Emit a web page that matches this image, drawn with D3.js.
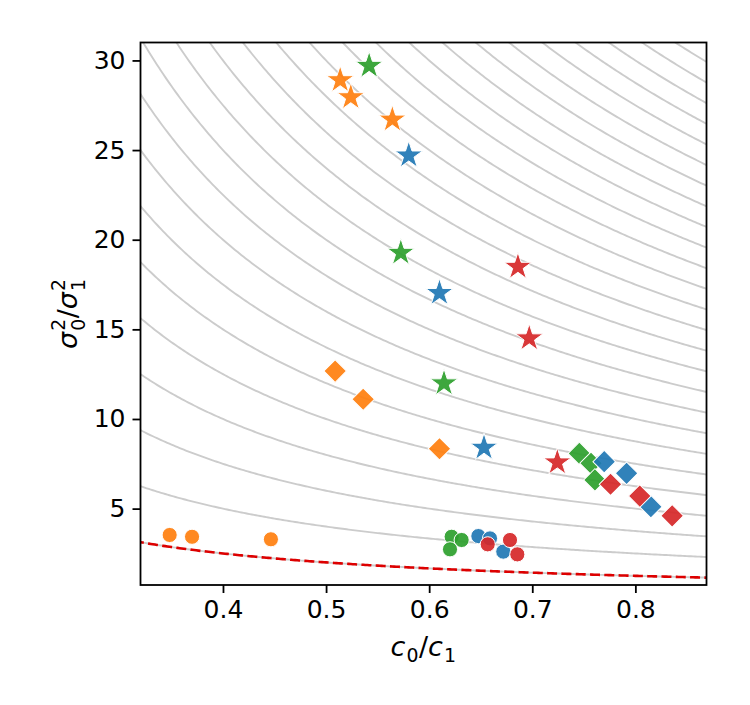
<!DOCTYPE html>
<html><head><meta charset="utf-8">
<script src="https://cdn.jsdelivr.net/npm/d3@7"></script>
<style>body{margin:0;background:#fff} svg{display:block} text{font-family:"DejaVu Sans",sans-serif;}</style>
</head><body>
<svg id="chart" width="750" height="705"></svg>
<script>
// ---- data ----
const xTicks = [0.4, 0.5, 0.6, 0.7, 0.8];
const yTicks = [5, 10, 15, 20, 25, 30];
const curveK = [1,2,3,4,5,6,7,8,9,10,11,12,13,14,15,16,17,18,19,20,21,22,23,24,25,26,27];
const boundK = 1;

const blueStars     = [[0.5802, 24.70], [0.6100, 17.03], [0.6532, 8.40]];
const blueDiamonds  = [[0.7698, 7.62], [0.7915, 6.97], [0.8150, 5.11]];
const blueCircles   = [[0.6477, 3.47], [0.6590, 3.34], [0.6719, 2.60]];
const orangeStars    = [[0.5137, 28.90], [0.5240, 27.95], [0.5643, 26.70]];
const orangeDiamonds = [[0.5088, 12.67], [0.5360, 11.10], [0.6100, 8.34]];
const orangeCircles  = [[0.3483, 3.53], [0.3700, 3.43], [0.4465, 3.29]];
const greenStars    = [[0.5418, 29.70], [0.5725, 19.27], [0.6144, 11.99]];
const greenDiamonds = [[0.7457, 8.08], [0.7570, 7.53], [0.7608, 6.60]];
const greenCircles  = [[0.6218, 3.43], [0.6315, 3.25], [0.6202, 2.73]];
const redStars    = [[0.6861, 18.49], [0.6971, 14.50], [0.7243, 7.58]];
const redDiamonds = [[0.7759, 6.36], [0.8043, 5.70], [0.8357, 4.60]];
const redCircles  = [[0.6568, 3.01], [0.6784, 3.25], [0.6855, 2.45]];

const groups = [
  {color: "#ff7f0e", stars: orangeStars, diamonds: orangeDiamonds, circles: orangeCircles},
  {color: "#2ca02c", stars: greenStars, diamonds: greenDiamonds, circles: greenCircles},
  {color: "#1f77b4", stars: blueStars, diamonds: blueDiamonds, circles: blueCircles},
  {color: "#d62728", stars: redStars, diamonds: redDiamonds, circles: redCircles}
];

// ---- layout ----
const m = {left: 140.5, right: 706.5, top: 42.5, bottom: 585};
const x = d3.scaleLinear().domain([0.32, 0.869]).range([m.left, m.right]);
const y = d3.scaleLinear().domain([0.74, 31.0]).range([m.bottom, m.top]);
const FS = 25;
const LFS = 27;

const svg = d3.select("#chart");
svg.append("defs").append("clipPath").attr("id", "clip")
  .append("rect").attr("x", m.left).attr("y", m.top)
  .attr("width", m.right - m.left).attr("height", m.bottom - m.top);

const plot = svg.append("g").attr("clip-path", "url(#clip)");

const xs = d3.range(0, 301).map(i => 0.3 + i * (0.9 - 0.3) / 300);
const line = d3.line().x(d => x(d[0])).y(d => y(d[1]));

plot.append("g").selectAll("path").data(curveK).join("path")
  .attr("d", k => line(xs.map(v => [v, k / v])))
  .attr("fill", "none").attr("stroke", "#cccccc").attr("stroke-width", 1.9);

plot.append("path")
  .attr("d", line(xs.map(v => [v, boundK / v])))
  .attr("fill", "none").attr("stroke", "#dd0000").attr("stroke-width", 2.6)
  .attr("stroke-dasharray", "10,4.3");

const star = d3.symbol().type(d3.symbolStar).size(235);
const diamond = d3.symbol().type(d3.symbolSquare).size(255);
const circle = d3.symbol().type(d3.symbolCircle).size(180);

const mk = plot.append("g");
groups.forEach(g => {
  mk.append("g").selectAll("path.c").data(g.circles).join("path")
    .attr("transform", d => `translate(${x(d[0])},${y(d[1])})`)
    .attr("d", circle()).attr("fill", g.color).attr("fill-opacity", 0.92)
    .attr("stroke", "#fff").attr("stroke-width", 1);
  mk.append("g").selectAll("path.d").data(g.diamonds).join("path")
    .attr("transform", d => `translate(${x(d[0])},${y(d[1])}) rotate(45)`)
    .attr("d", diamond()).attr("fill", g.color).attr("fill-opacity", 0.92)
    .attr("stroke", "#fff").attr("stroke-width", 1);
  mk.append("g").selectAll("path.s").data(g.stars).join("path")
    .attr("transform", d => `translate(${x(d[0])},${y(d[1])})`)
    .attr("d", star()).attr("fill", g.color).attr("fill-opacity", 0.92)
    .attr("stroke", "#fff").attr("stroke-width", 1);
});

// ---- axes ----
const xAxis = svg.append("g").attr("transform", `translate(0,${m.bottom})`)
  .call(d3.axisBottom(x).tickValues(xTicks).tickFormat(d3.format(".1f")).tickSize(8).tickPadding(7));
const yAxis = svg.append("g").attr("transform", `translate(${m.left},0)`)
  .call(d3.axisLeft(y).tickValues(yTicks).tickFormat(d3.format("d")).tickSize(8).tickPadding(7));
[xAxis, yAxis].forEach(a => {
  a.select(".domain").remove();
  a.selectAll(".tick line").attr("stroke", "#000").attr("stroke-width", 1.8);
  a.selectAll(".tick text").attr("fill", "#000").style("font-size", FS + "px")
    .style("font-family", "'DejaVu Sans'");
});

svg.append("rect").attr("x", m.left).attr("y", m.top)
  .attr("width", m.right - m.left).attr("height", m.bottom - m.top)
  .attr("fill", "none").attr("stroke", "#000").attr("stroke-width", 1.8);

// ---- math-like labels ----
function mathLabel(parent, parts, fs) {
  const g = parent.append("g");
  let cx = 0;
  parts.forEach(p => {
    const t = g.append("text").attr("x", cx).attr("y", 0)
      .style("font-size", fs + "px").style("font-style", p.italic ? "italic" : "normal")
      .text(p.text);
    const w = t.node().getComputedTextLength();
    let sw = 0;
    const both = p.sup && p.sub;
    if (p.sup) {
      const s = g.append("text").attr("x", cx + w + 1).attr("y", -fs * (both ? 0.45 : 0.38))
        .style("font-size", (fs * 0.7) + "px").text(p.sup);
      sw = Math.max(sw, s.node().getComputedTextLength() + 1.5);
    }
    if (p.sub) {
      const s = g.append("text").attr("x", cx + w + 1).attr("y", fs * (both ? 0.3 : 0.22))
        .style("font-size", (fs * 0.7) + "px").text(p.sub);
      sw = Math.max(sw, s.node().getComputedTextLength() + 1.5);
    }
    cx += w + sw;
  });
  return {g, width: cx};
}

const xl = mathLabel(svg, [{text: "c", italic: true, sub: "0"}, {text: "/"}, {text: "c", italic: true, sub: "1"}], LFS);
xl.g.attr("transform", `translate(${(m.left + m.right) / 2 - xl.width / 2},656)`);

const yl = mathLabel(svg, [{text: "σ", italic: true, sup: "2", sub: "0"}, {text: "/"}, {text: "σ", italic: true, sup: "2", sub: "1"}], LFS);
yl.g.attr("transform", `translate(77,${(m.top + m.bottom) / 2 + yl.width / 2}) rotate(-90)`);
</script>
</body></html>
